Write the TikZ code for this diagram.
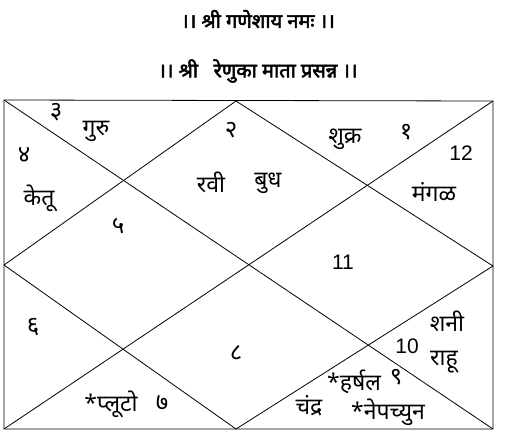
\documentclass[tikz,border=0pt]{standalone}
\usepackage{fontspec}
\setmainfont{Liberation Sans}
\newfontfamily\deva[Script=Devanagari]{Noto Sans}
\newfontfamily\devabold[Script=Devanagari, FakeBold=2.5]{Noto Sans}
\usetikzlibrary{positioning}
\tikzset{
  chartline/.style={draw=black, line width=0.8pt},
  heading/.style={font=\devabold\fontsize{20}{24}\selectfont, inner sep=1pt},
  graha/.style={font=\deva\fontsize{23}{27}\selectfont, inner sep=1pt},
  bhava/.style={font=\deva\fontsize{24}{28}\selectfont, inner sep=1pt},
  anka/.style={font=\fontsize{21}{25}\selectfont, inner sep=1pt},
}

\begin{document}
\begin{tikzpicture}[x=1pt, y=-1pt]
  \useasboundingbox (0,0) rectangle (505,432);
  % headings
  \node[heading] (title) at (258,19) {।। श्री गणेशाय नमः ।।};
  \node[heading] (subtitle) at (258,71) {।। श्री \ \ रेणुका माता प्रसन्न ।।};

  % chart frame
  \coordinate (tl) at (4,100);
  \coordinate (tr) at (493,101);
  \coordinate (br) at (493,429);
  \coordinate (bl) at (4,429);
  \coordinate (dtop) at (236,101);
  \coordinate (dright) at (493,266);
  \coordinate (dbottom) at (236,429);
  \coordinate (dleft) at (4,265);
  \draw[chartline] (tl) -- (tr) -- (br) -- (bl) -- cycle;
  \draw[chartline] (tl) -- (br);
  \draw[chartline] (bl) -- (tr);
  \draw[chartline] (dtop) -- (dright) -- (dbottom) -- (dleft) -- cycle;

  % house numbers
  \node[bhava] (h1) at (406,132) {१};
  \node[bhava] (h2) at (231,130) {२};
  \node[bhava] (h3) at (56,112) {३};
  \node[bhava] (h4) at (24,155) {४};
  \node[bhava] (h5) at (118,226) {५};
  \node[bhava] (h6) at (33,327) {६};
  \node[bhava] (h7) at (162,403) {७};
  \node[bhava] (h8) at (236,353) {८};
  \node[bhava] (h9) at (396,377) {९};
  \node[anka] (h10) at (407,346) {10};
  \node[anka] (h11) at (343,262) {11};
  \node[anka] (h12) at (461,153) {12};

  % planets
  \node[graha] (guru) at (96,131) {गुरु};
  \node[graha] (ketu) at (39,198) {केतू};
  \node[graha] (ravi) at (211,182) {रवी};
  \node[graha] (budh) at (268,183) {बुध};
  \node[graha] (shukra) at (345,139) {शुक्र};
  \node[graha] (mangal) at (434,192) {मंगळ};
  \node[graha] (shani) at (447,321) {शनी};
  \node[graha] (rahu) at (444,362) {राहू};
  \node[graha] (harshal) at (354,382) {*हर्षल};
  \node[graha] (chandra) at (309,406) {चंद्र};
  \node[graha] (nepchun) at (388,412) {*नेपच्युन};
  \node[graha] (pluto) at (111,404) {*प्लूटो};
\end{tikzpicture}
\end{document}
